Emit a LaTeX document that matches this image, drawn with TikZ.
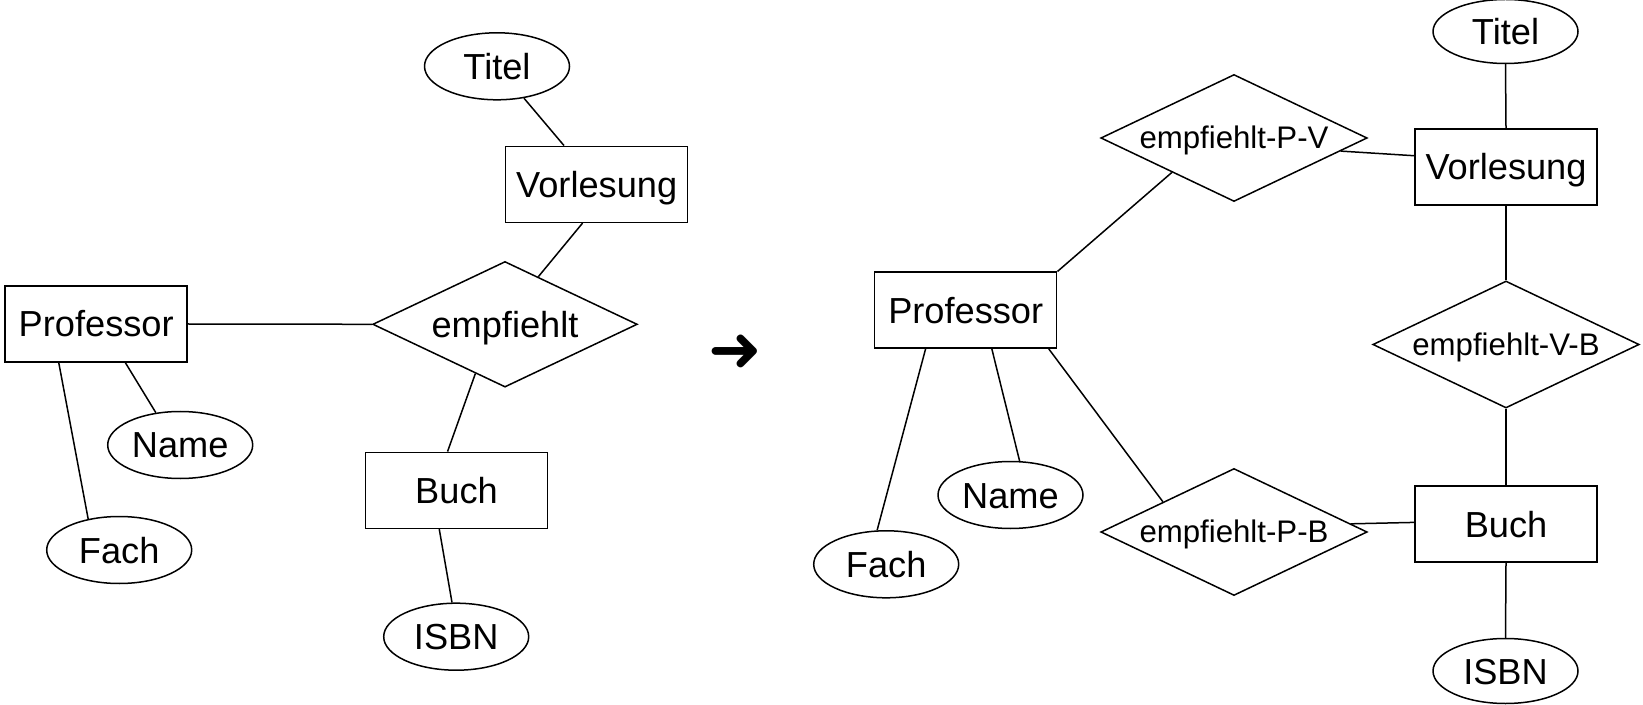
\documentclass[tikz,border=0pt]{standalone}
\usepackage{fontspec}
\setmainfont{Liberation Sans}
\newfontfamily\dejavu{DejaVu Sans}
\usetikzlibrary{shapes.geometric}
\tikzset{
  every node/.style={inner sep=0pt, font=\fontsize{18.1}{22}\selectfont},
  lbl/.style={text height=13pt, text depth=0pt},
  ent/.style={draw, rectangle, lbl, line width=0.75pt, minimum width=91pt, minimum height=38pt},
  att/.style={draw, ellipse, lbl, line width=0.75pt, minimum width=72.5pt, minimum height=33.5pt},
  rel/.style={draw, diamond, lbl, aspect=2.1, line width=0.75pt, minimum width=132.3pt, minimum height=62.8pt},
  relsmall/.style={rel, text height=10.8pt, minimum width=133.2pt, minimum height=63.5pt, font=\fontsize{15.6}{19}\selectfont},
  conn/.style={line width=0.75pt}
}
\begin{document}
\begin{tikzpicture}[x=0.5pt, y=-0.5pt]
\useasboundingbox (0,0) rectangle (1643,705);
% left diagram
\node[att] (titelL) at (497,66.3) {Titel};
\node[ent] (vorlL) at (596.7,184.3) {Vorlesung};
\node[ent] (profL) at (96.2,324) {Professor};
\node[rel] (empfL) at (505,324.3) {empfiehlt};
\node[ent] (buchL) at (456.5,490.3) {Buch};
\node[att] (isbnL) at (456.2,636.7) {ISBN};
\node[att] (nameL) at (180.2,445) {Name};
\node[att] (fachL) at (119.2,550) {Fach};
\draw[conn] (titelL) -- (vorlL);
\draw[conn] (vorlL.250.8) -- (empfL.55.7);
\draw[conn] (profL.east) -- (empfL.west);
\draw[conn] (empfL.239.3) -- (buchL.103.6);
\draw[conn] (buchL.246.5) -- (isbnL.97.7);
\draw[conn] (profL.307.6) -- (nameL.127.7);
\draw[conn] (profL.226.1) -- (fachL.135.2);
% arrow
\node[font=\dejavu\fontsize{32}{36}\selectfont] (arrow) at (735.5,353) {➜};
% right diagram
\node[att, minimum height=32pt] (titelR) at (1505.5,31.5) {Titel};
\node[ent] (vorlR) at (1506,167) {Vorlesung};
\node[relsmall] (pvR) at (1234,138) {empfiehlt-P-V};
\node[ent] (profR) at (965.7,310.2) {Professor};
\node[relsmall] (vbR) at (1506,344.5) {empfiehlt-V-B};
\node[ent] (buchR) at (1506,524) {Buch};
\node[att, minimum height=32.5pt] (isbnR) at (1505.5,671) {ISBN};
\node[relsmall] (pbR) at (1234,532) {empfiehlt-P-B};
\node[att] (nameR) at (1010.5,495) {Name};
\node[att] (fachR) at (886.2,564.3) {Fach};
\draw[conn] (titelR.south) -- (vorlR.north);
\draw[conn] (pvR.353) -- (vorlR.173.7);
\draw[conn] (profR.north east) -- (pvR.209.3);
\draw[conn] (vorlR.south) -- (vbR.north);
\draw[conn] (vbR.south) -- (buchR.north);
\draw[conn] (buchR.south) -- (isbnR.north);
\draw[conn] (pbR.4.4) -- (buchR.179.1);
\draw[conn] (profR.335.7) -- (pbR.157.9);
\draw[conn] (profR.304.8) -- (nameR.75.7);
\draw[conn] (profR.224.9) -- (fachR.105.9);
\end{tikzpicture}
\end{document}
